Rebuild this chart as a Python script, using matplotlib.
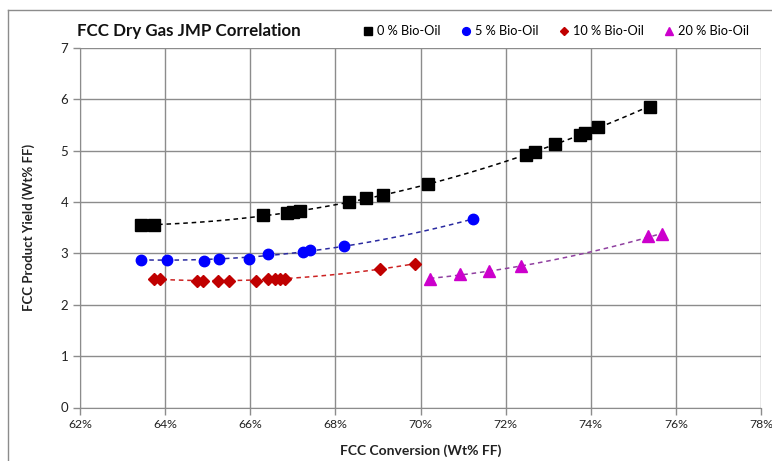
import matplotlib.pyplot as plt
import numpy as np
from matplotlib.lines import Line2D

plt.rcParams['font.family'] = ['Lato', 'DejaVu Sans']

# Dados (conversao em %, rendimento em Wt% FF)
x0 = [63.44, 63.74, 66.31, 66.86, 67.01, 67.16, 68.31, 68.71, 69.13, 70.18,
      72.48, 72.68, 73.15, 73.75, 73.86, 74.18, 75.39]
y0 = [3.56, 3.56, 3.74, 3.78, 3.81, 3.82, 4.00, 4.07, 4.13, 4.35,
      4.92, 4.98, 5.13, 5.31, 5.34, 5.47, 5.85]

x5 = [63.43, 64.05, 64.92, 65.26, 65.97, 66.42, 67.23, 67.41, 68.21, 71.24]
y5 = [2.88, 2.88, 2.86, 2.90, 2.90, 2.98, 3.03, 3.06, 3.14, 3.67]

x10 = [63.73, 63.87, 64.75, 64.88, 65.25, 65.50, 66.14, 66.41, 66.58, 66.69,
       66.82, 69.04, 69.86]
y10 = [2.50, 2.50, 2.47, 2.47, 2.47, 2.47, 2.47, 2.50, 2.51, 2.51,
       2.51, 2.69, 2.80]

x20 = [70.22, 70.92, 71.61, 72.35, 75.35, 75.68]
y20 = [2.51, 2.59, 2.65, 2.75, 3.33, 3.38]

labels = ['0 % Bio-Oil', '5 % Bio-Oil', '10 % Bio-Oil', '20 % Bio-Oil']
cores = ['black', '#0000ff', '#c00000', '#cc00cc']
cores_linha = ['black', '#2a2aa0', '#cc2222', '#9040a0']
marcadores = ['s', 'o', 'D', '^']
tamanhos = [8, 7.5, 6, 8.5]
series = [(x0, y0), (x5, y5), (x10, y10), (x20, y20)]

fig = plt.figure(figsize=(7.72, 4.61), dpi=100)
ax = fig.add_axes([80/772, 1 - 407.5/461, 681/772, 359.5/461])

# Moldura externa
fig.add_artist(Line2D([8/772, 1], [1 - 10/461, 1 - 10/461], color='#8c8c8c', lw=1))
fig.add_artist(Line2D([8/772, 8/772], [0, 1 - 10/461], color='#8c8c8c', lw=1))

for (xs, ys), c, cl, m, ms in zip(series, cores, cores_linha, marcadores, tamanhos):
    xs = np.array(xs)
    ys = np.array(ys)
    # linha de tendencia (ajuste polinomial de 2a ordem)
    p = np.polyfit(xs, ys, 2)
    xt = np.linspace(xs.min(), xs.max(), 100)
    ax.plot(xt, np.polyval(p, xt), ls=(0, (3, 2.5)), color=cl, lw=1.1, zorder=2)
    ax.plot(xs, ys, ls='none', marker=m, color=c, ms=ms, zorder=3)

ax.set_xlim(62, 78)
ax.set_ylim(0, 7)
ax.set_xticks(np.arange(62, 79, 2))
ax.set_xticklabels([f'{v}%' for v in range(62, 79, 2)])
ax.set_yticks(range(0, 8))
ax.grid(True, color='#8c8c8c', lw=1)
ax.set_axisbelow(True)
for s in ['top', 'right']:
    ax.spines[s].set_visible(False)
for s in ['left', 'bottom']:
    ax.spines[s].set_color('#8c8c8c')
ax.tick_params(colors='#8c8c8c', labelcolor='#222222', labelsize=9.5, length=5, width=1)
ax.tick_params(axis='x', labelsize=8.8)

ax.set_xlabel('FCC Conversion (Wt% FF)', fontsize=10, fontweight='bold', labelpad=10, color='#222222')
ax.set_ylabel('FCC Product Yield (Wt% FF)', fontsize=9.5, fontweight='bold', labelpad=18, color='#222222')

fig.text(77/772, 1 - 31/461, 'FCC Dry Gas JMP Correlation', fontsize=12.2, fontweight='bold',
         va='center', ha='left', color='#111111')

handles = [Line2D([], [], ls='none', marker=m, color=c, ms=ms * 0.75)
           for c, m, ms in zip(cores, marcadores, tamanhos)]
fig.legend(handles, labels, ncol=4, frameon=False, loc='center right',
           bbox_to_anchor=(754/772, 1 - 31/461), fontsize=9.2, handletextpad=0.1,
           columnspacing=1.4, handlelength=1.2, borderaxespad=0)

fig.savefig('out.png', dpi=100)
